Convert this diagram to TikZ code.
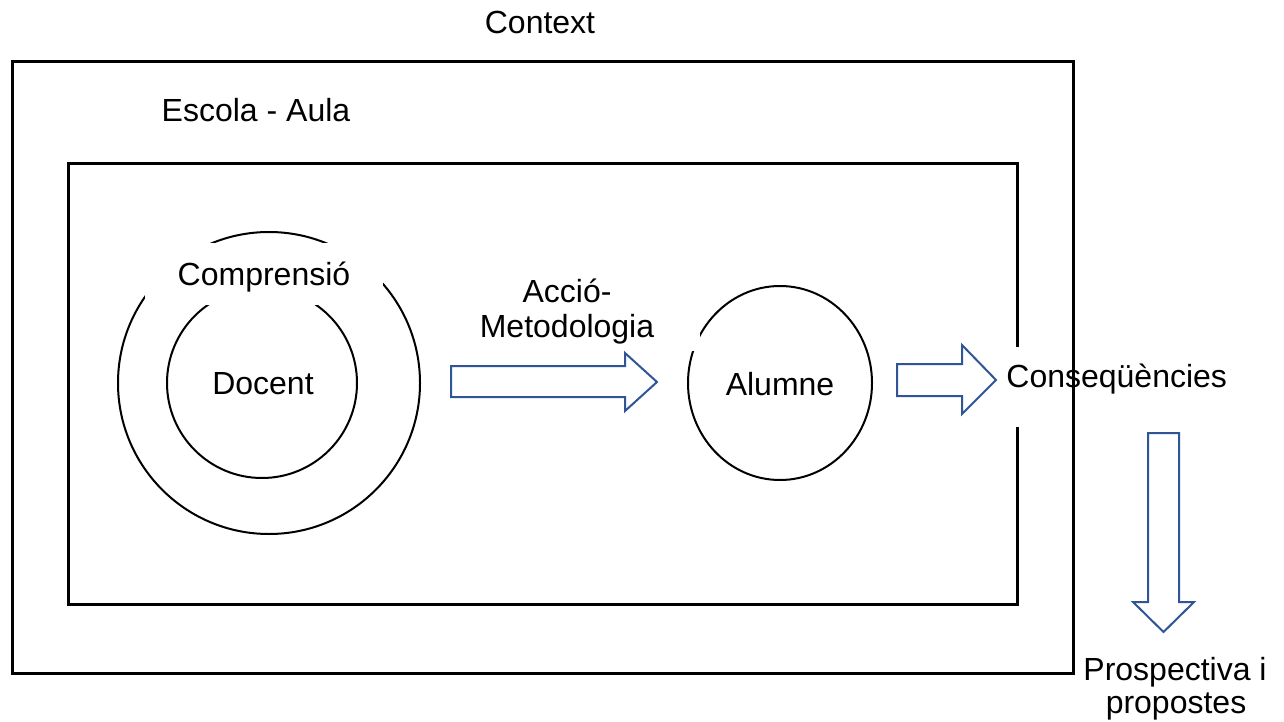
\documentclass[tikz,border=0pt]{standalone}
\usepackage{fontspec}
\setmainfont{Liberation Sans}
\usetikzlibrary{shapes.geometric}
\definecolor{arrowblue}{HTML}{2F5597}
\begin{document}
\begin{tikzpicture}[x=0.5pt,y=-0.5pt,
  frame/.style={draw=black, line width=1.5pt},
  ring/.style={draw=black, line width=1pt, inner sep=0pt},
  blockarrow/.style={draw=arrowblue, line width=1pt, line join=miter, fill=white},
  txt/.style={font=\fontsize{16}{17.5}\selectfont, inner sep=0pt, anchor=base},
  cover/.style={fill=white}]
\useasboundingbox (0,0) rectangle (1284,722);

% school / classroom frame
\draw[frame] (68,163) rectangle (1017,604);

% teacher with understanding around it
\node[ring, circle, minimum size=151pt] (comprensioring) at (269,383) {};
\node[ring, circle, minimum size=95pt] (docentring) at (262,383) {};
\node[txt] (docent) at (263,394.5) {Docent};

% student
\node[ring, ellipse, minimum width=92pt, minimum height=97pt] (alumne) at (780,383) {};
\node[txt] (alumnetxt) at (780,395) {Alumne};

% label backgrounds
\fill[cover] (145,243) rectangle (383,305);
\fill[cover] (470,262) rectangle (700,351);
\fill[cover] (1000,347) rectangle (1235,427);

\node[txt] (comprensio) at (264,285) {Comprensió};
\node[txt] (accio) at (567,302) {Acció-};
\node[txt] (metodologia) at (567,337) {Metodologia};
\node[txt, anchor=base west] (consequencies) at (1006,387) {Conseqüències};

% block arrows
\draw[blockarrow] (451,366) -- (625,366) -- (625,353) -- (657,382)
  -- (625,411) -- (625,397) -- (451,397) -- cycle;
\draw[blockarrow] (897,364) -- (962,364) -- (962,345) -- (996,380)
  -- (962,414) -- (962,396) -- (897,396) -- cycle;
\draw[blockarrow] (1148,433) -- (1179,433) -- (1179,602) -- (1194,602)
  -- (1163.5,632) -- (1133,602) -- (1148,602) -- cycle;

\node[txt] (prospectiva) at (1175,680) {Prospectiva i};
\node[txt] (propostes) at (1176,713) {propostes};

% context frame
\draw[frame] (12,62) rectangle (1073,673);
\node[txt] (context) at (540,33.5) {Context};
\node[txt] (escola) at (256,121.5) {Escola - Aula};
\end{tikzpicture}
\end{document}
